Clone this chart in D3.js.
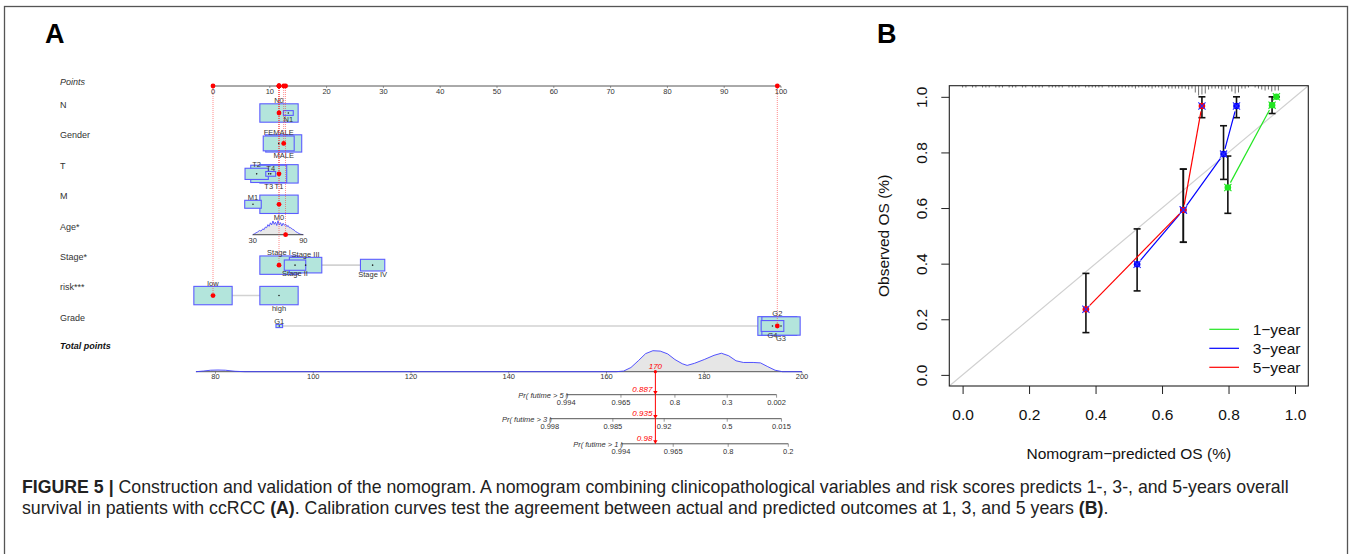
<!DOCTYPE html>
<html>
<head>
<meta charset="utf-8">
<script src="https://cdn.jsdelivr.net/npm/d3@7"></script>
<style>
  html, body { margin: 0; padding: 0; background: #fff; }
  svg { display: block; font-family: "Liberation Sans", Arial, Helvetica, sans-serif; }
</style>
</head>
<body>
<svg id="fig" width="1352" height="554"></svg>
<script>
// ---------- nomogram (A) ----------
const pointsTicks = [0, 10, 20, 30, 40, 50, 60, 70, 80, 90, 100];
const rowNames = ['N', 'Gender', 'T', 'M', 'Age*', 'Stage*', 'risk***', 'Grade'];

const levelRow = ['N', 'N', 'Gender', 'Gender', 'T', 'T', 'T', 'T', 'M', 'M',
  'Stage*', 'Stage*', 'Stage*', 'Stage*', 'risk***', 'risk***', 'Grade', 'Grade', 'Grade', 'Grade'];
const levelName = ['N0', 'N1', 'FEMALE', 'MALE', 'T1', 'T2', 'T3', 'T4', 'M0', 'M1',
  'Stage I', 'Stage II', 'Stage III', 'Stage IV', 'low', 'high', 'G1', 'G2', 'G3', 'G4'];
const levelPoints = [11.62, 13.26, 11.57, 12.45, 11.62, 7.69, 9.81, 10.16, 11.62, 7.04,
  11.62, 14.44, 16.30, 28.10, 0, 11.62, 11.67, 99.35, 100, 98.5];
const levelCount = [300, 20, 196, 265, 300, 111, 265, 20, 300, 56,
  300, 94, 215, 121, 300, 300, 9, 310, 300, 105];
const levelSide = ['up', 'down', 'up', 'down', 'down', 'up', 'down', 'up', 'down', 'up',
  'up', 'down', 'up', 'down', 'up', 'down', 'up', 'up', 'down', 'down'];
const selectedLevels = ['N0', 'MALE', 'T1', 'M0', 'Stage I', 'low', 'G2'];

const ageTickLabels = [30, 90];
const ageTickPoints = [6.99, 15.9];
const ageDensAge = [30, 32, 34, 36, 38, 40, 42, 43.5, 45, 46.5, 48, 49.5, 51, 52.5, 54, 55.5, 57, 58.5, 60, 61.5, 63,
  64.5, 66, 67.5, 69, 70.5, 72, 73.5, 75, 77, 79, 81, 83, 85, 87, 90];
const ageDensVal = [0, 0.06, 0.14, 0.2, 0.3, 0.26, 0.42, 0.36, 0.55, 0.5, 0.72, 0.6, 0.85, 0.7, 0.98, 0.74, 0.9, 0.66,
  1.0, 0.7, 0.86, 0.62, 0.82, 0.68, 0.76, 0.58, 0.66, 0.5, 0.5, 0.4, 0.34, 0.22, 0.16, 0.08, 0.03, 0];
const patientAge = 69;

const totalTicks = [80, 100, 120, 140, 160, 180, 200];
const totDensT = [76, 77.5, 79, 80.5, 82, 84, 86, 160, 162, 163.5, 165, 166.5, 168, 169.5, 171, 172.5, 174, 175.5, 176.5,
  178, 180, 182, 183.5, 185, 186.5, 188, 190, 191.5, 193, 194.5, 196, 200];
const totDensV = [0, 0.03, 0.07, 0.08, 0.07, 0.02, 0, 0, 0, 0.03, 0.2, 0.52, 0.86, 1.0, 0.98, 0.85, 0.58, 0.38, 0.3,
  0.4, 0.58, 0.78, 0.88, 0.76, 0.52, 0.44, 0.44, 0.42, 0.24, 0.07, 0, 0];
const totalScore = 170;

const prLabels = ['Pr( futime > 5 )', 'Pr( futime > 3 )', 'Pr( futime > 1 )'];
const pr5Ticks = ['0.994', '0.965', '0.8', '0.3', '0.002'];
const pr5At = [151.75, 162.96, 174.0, 184.7, 194.8];
const pr3Ticks = ['0.998', '0.985', '0.92', '0.5', '0.015'];
const pr3At = [148.4, 161.3, 171.8, 184.7, 195.8];
const pr1Ticks = ['0.994', '0.965', '0.8', '0.2'];
const pr1At = [162.96, 173.65, 184.9, 197.2];
const prValues = ['0.887', '0.935', '0.98'];

// ---------- calibration (B) ----------
const calTicks = [0, 0.2, 0.4, 0.6, 0.8, 1.0];
const seriesNames = ['1\u2212year', '3\u2212year', '5\u2212year'];
const seriesColors = ['#22e622', '#0000ff', '#ff0000'];
const pred1 = [0.798, 0.931, 0.944];
const obs1 = [0.674, 0.970, 1.0];
const lo1 = [0.581, 0.940, 1.0];
const hi1 = [0.787, 1.0, 1.0];
const pred3 = [0.525, 0.664, 0.785, 0.824];
const obs3 = [0.398, 0.593, 0.794, 0.967];
const lo3 = [0.302, 0.477, 0.703, 0.925];
const hi3 = [0.525, 0.740, 0.896, 1.0];
const pred5 = [0.371, 0.664, 0.720];
const obs5 = [0.236, 0.593, 0.967];
const lo5 = [0.152, 0.477, 0.925];
const hi5 = [0.365, 0.740, 1.0];
// counts of predicted risk per 0.01 bin starting at 0.00 (rug at top)
const riskCounts = [1, 1, 0, 1, 1, 0, 1, 1, 1, 0, 1, 1, 1, 0, 1, 1, 1, 0, 1, 1,
  0, 1, 1, 1, 1, 0, 1, 1, 1, 1, 1, 0, 1, 1, 1, 1, 0, 1, 1, 1,
  1, 1, 1, 0, 1, 1, 1, 1, 1, 1, 1, 1, 2, 1, 1, 1, 1, 2, 1, 1,
  2, 1, 2, 2, 2, 2, 2, 2, 3, 2, 6, 9, 8, 7, 3, 2, 2, 2, 3, 3,
  2, 5, 7, 6, 2, 2, 1, 0, 1, 2, 3, 4, 3, 5, 4, 4];

const svg = d3.select('#fig');

// outer frame and panel letters
svg.append('rect').attr('x', 4.5).attr('y', 6.5).attr('width', 1343).attr('height', 570)
  .attr('fill', 'none').attr('stroke', '#555').attr('stroke-width', 1.3);
svg.append('text').attr('x', 45).attr('y', 43).attr('font-size', 27).attr('font-weight', 700).text('A');
svg.append('text').attr('x', 877).attr('y', 43).attr('font-size', 27).attr('font-weight', 700).text('B');

// ================= Panel A =================
const A = svg.append('g').attr('fill', '#333');
const ptsX = d3.scaleLinear().domain([0, 100]).range([213, 781]);
const rowY = d3.scalePoint().domain(rowNames).range([113, 326]);
const axisY = 86;
const boxW = d3.scaleSqrt().domain([0, 300]).range([0, 38.3]);

// row labels
A.append('text').attr('x', 60).attr('y', 85).attr('font-size', 9).attr('font-style', 'italic').text('Points');
rowNames.forEach(r => {
  A.append('text').attr('x', 60).attr('y', rowY(r) - 5.1).attr('font-size', 9).text(r);
});
A.append('text').attr('x', 60).attr('y', 348.5).attr('font-size', 9)
  .attr('font-style', 'italic').attr('font-weight', 700).attr('fill', '#111').text('Total points');

// points axis
A.append('line').attr('x1', ptsX(0)).attr('x2', ptsX(100)).attr('y1', axisY).attr('y2', axisY)
  .attr('stroke', '#555').attr('stroke-width', 1);
pointsTicks.forEach(t => {
  A.append('line').attr('x1', ptsX(t)).attr('x2', ptsX(t)).attr('y1', axisY).attr('y2', axisY + 2)
    .attr('stroke', '#555').attr('stroke-width', 0.6);
  A.append('text').attr('x', ptsX(t)).attr('y', axisY + 8.3).attr('font-size', 7.5)
    .attr('text-anchor', 'middle').text(t);
});

const levels = levelName.map((name, i) => ({
  name, row: levelRow[i], pts: levelPoints[i], n: levelCount[i], side: levelSide[i]
}));

// gray connectors per row
d3.groups(levels, d => d.row).forEach(([row, lv]) => {
  const ext = d3.extent(lv, d => d.pts);
  A.append('line').attr('x1', ptsX(ext[0])).attr('x2', ptsX(ext[1]))
    .attr('y1', rowY(row)).attr('y2', rowY(row)).attr('stroke', '#d2d2d2').attr('stroke-width', 1.6);
});

// boxes, biggest first
levels.slice().sort((a, b) => b.n - a.n).forEach(d => {
  const w = boxW(d.n), h = w * 0.48;
  A.append('rect').attr('x', ptsX(d.pts) - w / 2).attr('y', rowY(d.row) - h / 2)
    .attr('width', w).attr('height', h)
    .attr('fill', '#b3e5dc').attr('stroke', '#5c5cff').attr('stroke-width', 1.1);
});
levels.forEach(d => {
  A.append('circle').attr('cx', ptsX(d.pts)).attr('cy', rowY(d.row)).attr('r', 0.8).attr('fill', '#222');
  const h = boxW(d.n) * 0.48;
  const y = d.side === 'up' ? rowY(d.row) - h / 2 - 0.8 : rowY(d.row) + h / 2 + 6.2;
  A.append('text').attr('x', ptsX(d.pts)).attr('y', y).attr('font-size', 7.5)
    .attr('text-anchor', 'middle').text(d.name);
});

// age: continuous axis with density
const ageX = d3.scaleLinear().domain(ageTickLabels).range(ageTickPoints.map(ptsX));
const ageRowY = rowY('Age*');
const ageArea = d3.area().x((d, i) => ageX(ageDensAge[i])).y0(ageRowY).y1(d => ageRowY - d * 14);
A.append('path').datum(ageDensVal).attr('d', ageArea).attr('fill', '#e8e8e8').attr('stroke', 'none');
A.append('path').datum(ageDensVal).attr('d', ageArea.lineY1()).attr('fill', 'none')
  .attr('stroke', '#3c3cff').attr('stroke-width', 0.8);
A.append('line').attr('x1', ageX(30)).attr('x2', ageX(90)).attr('y1', ageRowY).attr('y2', ageRowY)
  .attr('stroke', '#444').attr('stroke-width', 1);
ageTickLabels.forEach(a => {
  A.append('text').attr('x', ageX(a)).attr('y', ageRowY + 8).attr('font-size', 7.5)
    .attr('text-anchor', 'middle').text(a);
});

// selected patient: red guides and dots
const picks = selectedLevels.map(n => levels.find(l => l.name === n))
  .map(l => ({ x: ptsX(l.pts), y: rowY(l.row) }));
picks.push({ x: ageX(patientAge), y: ageRowY });
picks.forEach(p => {
  A.append('line').attr('x1', p.x).attr('x2', p.x).attr('y1', axisY).attr('y2', p.y)
    .attr('stroke', '#ff3030').attr('stroke-width', 0.8).attr('stroke-dasharray', '1,1').attr('opacity', 0.7);
});
picks.forEach(p => {
  A.append('circle').attr('cx', p.x).attr('cy', p.y).attr('r', 2.4).attr('fill', '#ff0000');
  A.append('circle').attr('cx', p.x).attr('cy', axisY).attr('r', 2.4).attr('fill', '#ff0000');
});

// total points axis + density
const totX = d3.scaleLinear().domain([80, 200]).range([215.5, 802]);
const totY = 371.7;
const totArea = d3.area().x((d, i) => totX(totDensT[i])).y0(totY).y1(d => totY - d * 21);
A.append('path').datum(totDensV).attr('d', totArea).attr('fill', '#e6e6e6');
A.append('line').attr('x1', totX(d3.min(totDensT))).attr('x2', totX(200)).attr('y1', totY).attr('y2', totY)
  .attr('stroke', '#555').attr('stroke-width', 1);
A.append('path').datum(totDensV).attr('d', totArea.lineY1()).attr('fill', 'none')
  .attr('stroke', '#4040ff').attr('stroke-width', 0.9);
totalTicks.forEach(t => {
  A.append('line').attr('x1', totX(t)).attr('x2', totX(t)).attr('y1', totY).attr('y2', totY + 2)
    .attr('stroke', '#555').attr('stroke-width', 0.6);
  A.append('text').attr('x', totX(t)).attr('y', totY + 7.6).attr('font-size', 7.5)
    .attr('text-anchor', 'middle').text(t);
});

// probability axes
const prY = [394.7, 418.7, 443.8];
const prSets = [[pr5Ticks, pr5At], [pr3Ticks, pr3At], [pr1Ticks, pr1At]];
prSets.forEach(([ticks, at], k) => {
  const y = prY[k];
  A.append('line').attr('x1', totX(at[0])).attr('x2', totX(at[at.length - 1])).attr('y1', y).attr('y2', y)
    .attr('stroke', '#555').attr('stroke-width', 1);
  A.append('text').attr('x', totX(at[0]) + 2).attr('y', y + 3).attr('font-size', 7.5)
    .attr('font-style', 'italic').attr('text-anchor', 'end').text(prLabels[k]);
  ticks.forEach((t, i) => {
    A.append('line').attr('x1', totX(at[i])).attr('x2', totX(at[i])).attr('y1', y).attr('y2', y + 3)
      .attr('stroke', '#555').attr('stroke-width', 0.6);
    A.append('text').attr('x', totX(at[i])).attr('y', y + 9.8).attr('font-size', 7.5)
      .attr('text-anchor', 'middle').text(t);
  });
});

// red readout line
const sx = totX(totalScore);
A.append('line').attr('x1', sx).attr('x2', sx).attr('y1', totY).attr('y2', prY[2])
  .attr('stroke', '#ff0000').attr('stroke-width', 1);
A.append('circle').attr('cx', sx).attr('cy', totY).attr('r', 1.6).attr('fill', '#ff0000');
A.append('text').attr('x', sx).attr('y', totY - 2.4).attr('font-size', 8).attr('font-style', 'italic')
  .attr('text-anchor', 'middle').attr('fill', '#ff0000').text(totalScore);
prY.forEach((y, k) => {
  A.append('path').attr('d', `M${sx - 2.2},${y - 3.6}L${sx + 2.2},${y - 3.6}L${sx},${y}Z`).attr('fill', '#ff0000');
  A.append('text').attr('x', sx - 3).attr('y', y - 2.5).attr('font-size', 8).attr('font-style', 'italic')
    .attr('text-anchor', 'end').attr('fill', '#ff0000').text(prValues[k]);
});

// ================= Panel B =================
const B = svg.append('g');
const bx = d3.scaleLinear().domain([-0.04, 1.04]).range([949.3, 1308.3]);
const by = d3.scaleLinear().domain([-0.04, 1.04]).range([386, 85.7]);

// ideal line
B.append('line').attr('x1', bx(-0.04)).attr('y1', by(-0.04)).attr('x2', bx(1.04)).attr('y2', by(1.04))
  .attr('stroke', '#d0d0d0').attr('stroke-width', 1.2);

// risk distribution rug hanging from the top edge
const rugLen = d3.scaleLinear().domain([0, 9]).range([0, 9]);
riskCounts.forEach((c, i) => {
  if (!c) return;
  const x = bx(i * 0.01);
  B.append('line').attr('x1', x).attr('x2', x).attr('y1', by(1.04)).attr('y2', by(1.04) + rugLen(c) + 0.8)
    .attr('stroke', '#333').attr('stroke-width', 0.7);
});

B.append('rect').attr('x', bx(-0.04)).attr('y', by(1.04)).attr('width', bx(1.04) - bx(-0.04))
  .attr('height', by(-0.04) - by(1.04)).attr('fill', 'none').attr('stroke', '#222').attr('stroke-width', 1.1);

const series = [
  { pred: pred1, obs: obs1, lo: lo1, hi: hi1 },
  { pred: pred3, obs: obs3, lo: lo3, hi: hi3 },
  { pred: pred5, obs: obs5, lo: lo5, hi: hi5 }
];

// error bars
series.forEach(s => {
  s.pred.forEach((p, i) => {
    const x = bx(p);
    B.append('line').attr('x1', x).attr('x2', x).attr('y1', by(s.lo[i])).attr('y2', by(s.hi[i]))
      .attr('stroke', '#111').attr('stroke-width', 1.6);
    [s.lo[i], s.hi[i]].forEach(v => {
      B.append('line').attr('x1', x - 3.5).attr('x2', x + 3.5).attr('y1', by(v)).attr('y2', by(v))
        .attr('stroke', '#111').attr('stroke-width', 1.6);
    });
  });
});

// connecting lines with gaps near the points (R type = "b")
series.forEach((s, k) => {
  for (let i = 0; i < s.pred.length - 1; i++) {
    const x0 = bx(s.pred[i]), y0 = by(s.obs[i]), x1 = bx(s.pred[i + 1]), y1 = by(s.obs[i + 1]);
    const len = Math.hypot(x1 - x0, y1 - y0), g = 5.5;
    if (len < 2 * g) continue;
    const ux = (x1 - x0) / len, uy = (y1 - y0) / len;
    B.append('line').attr('x1', x0 + ux * g).attr('y1', y0 + uy * g).attr('x2', x1 - ux * g).attr('y2', y1 - uy * g)
      .attr('stroke', seriesColors[k]).attr('stroke-width', 1.2);
  }
});

// observed dots and corrected x marks
series.forEach((s, k) => {
  s.pred.forEach((p, i) => {
    B.append('circle').attr('cx', bx(p)).attr('cy', by(s.obs[i])).attr('r', 3.3).attr('fill', seriesColors[k]);
  });
});
series.forEach((s, k) => {
  s.pred.forEach((p, i) => {
    const x = bx(p), y = by(s.obs[i]), r = 3.6;
    B.append('path').attr('d', `M${x - r},${y - r}L${x + r},${y + r}M${x - r},${y + r}L${x + r},${y - r}`)
      .attr('stroke', k === 0 ? seriesColors[0] : '#2a2aff').attr('stroke-width', 1.1).attr('fill', 'none');
  });
});

// axes
const xAxis = B.append('g').attr('transform', `translate(0,${by(-0.04)})`)
  .call(d3.axisBottom(bx).tickValues(calTicks).tickSize(8).tickPadding(15).tickFormat(d3.format('.1f')));
const yAxis = B.append('g').attr('transform', `translate(${bx(-0.04)},0)`)
  .call(d3.axisLeft(by).tickValues(calTicks).tickSize(8).tickFormat(d3.format('.1f')));
[xAxis, yAxis].forEach(g => {
  g.select('.domain').remove();
  g.selectAll('line').attr('stroke', '#222');
  g.selectAll('text').attr('font-size', 15.5).attr('fill', '#111')
    .attr('font-family', '"Liberation Sans", Arial, Helvetica, sans-serif');
});
yAxis.selectAll('text').attr('x', 0).attr('dy', 0).attr('text-anchor', 'middle')
  .attr('transform', 'translate(-22.3,0) rotate(-90)');

B.append('text').attr('x', (bx(-0.04) + bx(1.04)) / 2).attr('y', 458.7).attr('font-size', 15.5)
  .attr('text-anchor', 'middle').attr('fill', '#111').text('Nomogram\u2212predicted OS (%)');
B.append('text').attr('transform', `translate(889,${(by(-0.04) + by(1.04)) / 2}) rotate(-90)`)
  .attr('font-size', 15.5).attr('text-anchor', 'middle').attr('fill', '#111').text('Observed OS (%)');

// legend
const legY = [329.3, 348.3, 367.3];
seriesNames.forEach((n, k) => {
  B.append('line').attr('x1', 1209.3).attr('x2', 1239).attr('y1', legY[k]).attr('y2', legY[k])
    .attr('stroke', seriesColors[k]).attr('stroke-width', 1.2);
  B.append('text').attr('x', 1252.7).attr('y', legY[k] + 5.4).attr('font-size', 15.5)
    .attr('fill', '#111').text(n);
});

// ================= caption =================
const cap = svg.append('g').attr('fill', '#222');
const line1 = cap.append('text').attr('x', 22).attr('y', 492.5).attr('font-size', 14);
line1.append('tspan').attr('font-weight', 700).text('FIGURE 5 | ');
line1.append('tspan').text('Construction and validation of the nomogram. A nomogram combining clinicopathological variables and risk scores predicts 1-, 3-, and 5-years overall');
const line2 = cap.append('text').attr('x', 22).attr('y', 513.5).attr('font-size', 14);
line2.append('tspan').text('survival in patients with ccRCC ');
line2.append('tspan').attr('font-weight', 700).text('(A)');
line2.append('tspan').text('. Calibration curves test the agreement between actual and predicted outcomes at 1, 3, and 5 years ');
line2.append('tspan').attr('font-weight', 700).text('(B)');
line2.append('tspan').text('.');
// fit caption to the width seen in the figure
const w1 = line1.node().getComputedTextLength();
const fs = 14 * 1268 / w1;
line1.attr('font-size', fs);
line2.attr('font-size', fs);
</script>
</body>
</html>
